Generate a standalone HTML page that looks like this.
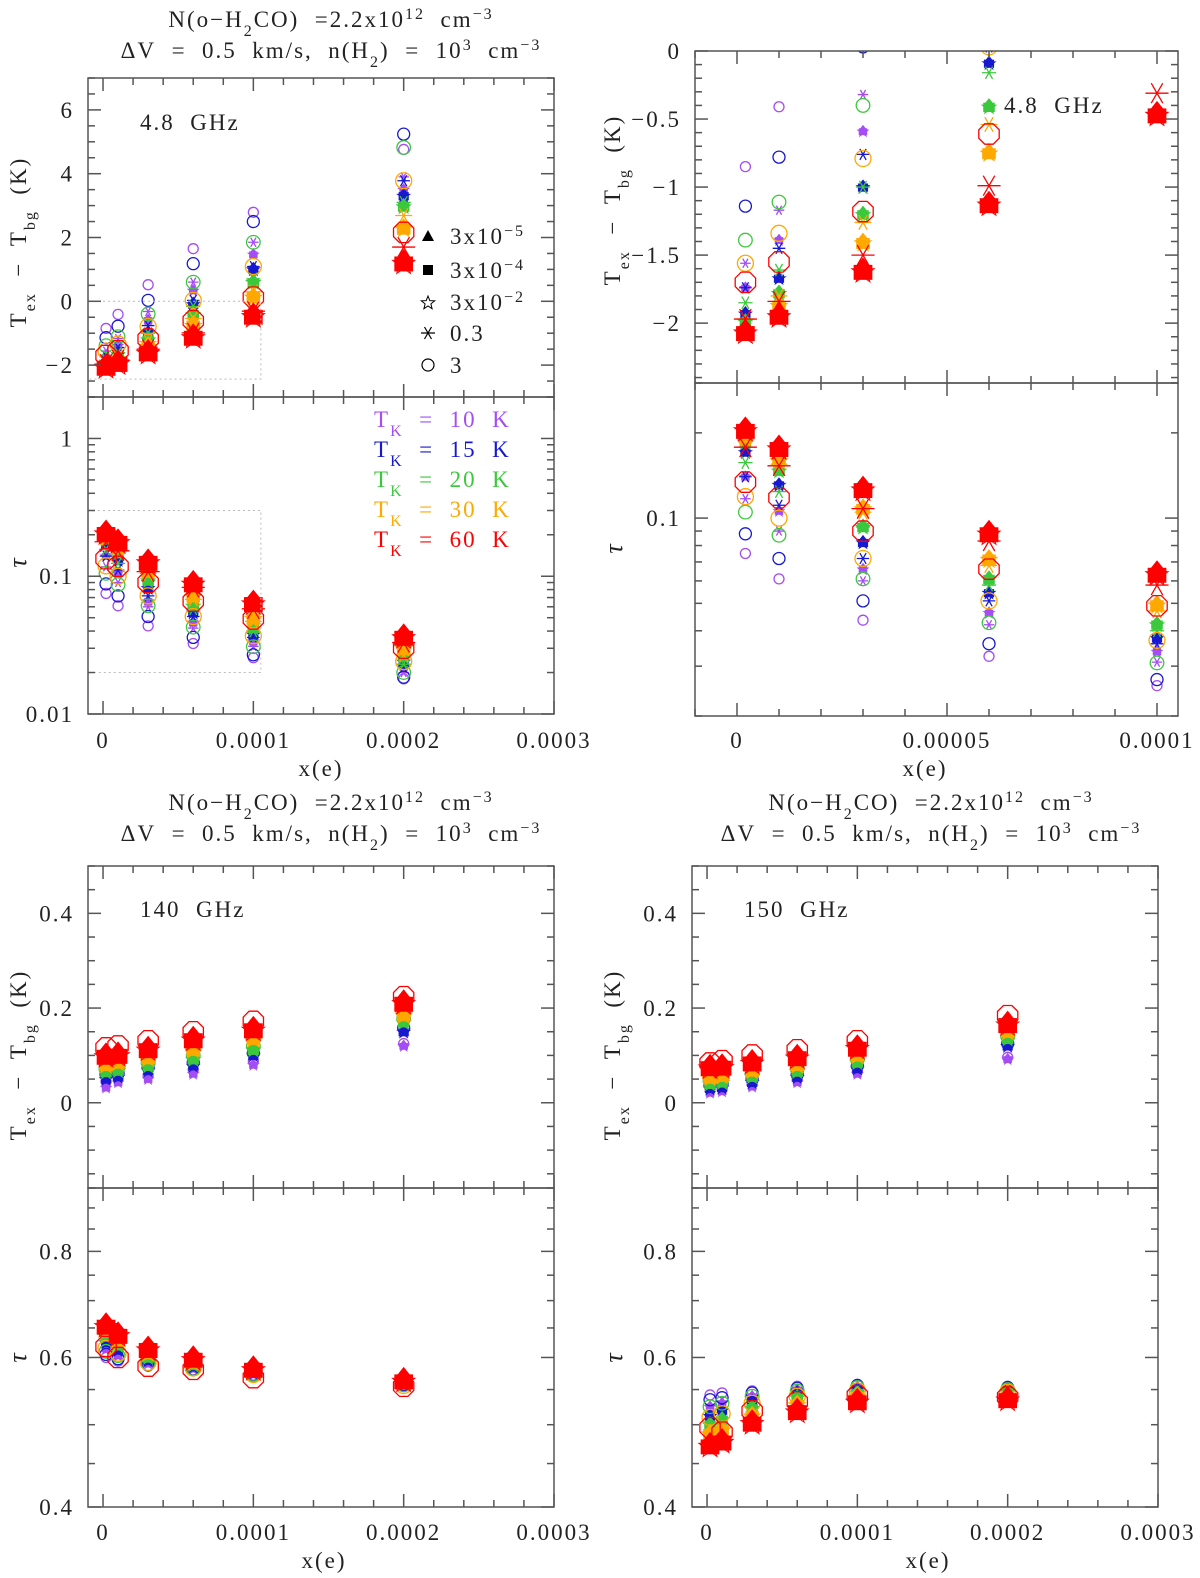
<!DOCTYPE html>
<html><head><meta charset="utf-8"><style>
html,body{margin:0;padding:0;background:#fff;}
svg{display:block;font-family:"Liberation Serif",serif;}
</style></head><body>
<svg id="fig" width="1200" height="1578" viewBox="0 0 1200 1578" xmlns="http://www.w3.org/2000/svg"></svg>
<script>
// ---------------- data ----------------
const xE = [2e-6, 1e-5, 3e-5, 6e-5, 1e-4, 2e-4];
const tempLabels = ['10', '15', '20', '30', '60'];
const tempColors = ['#a44df5', '#1818d0', '#3cc83c', '#ffa800', '#ff0000'];

// 4.8 GHz Tex - Tbg (K), rows = TK 10,15,20,30,60
const tex48Circle = [
  [-0.85, -0.41, 0.52, 1.65, 2.79, 4.76],
  [-1.14, -0.78, 0.03, 1.18, 2.50, 5.24],
  [-1.39, -1.11, -0.40, 0.60, 1.85, 4.82],
  [-1.56, -1.34, -0.79, 0.03, 1.09, 3.78],
  [-1.70, -1.55, -1.18, -0.61, 0.13, 2.16]];
const tex48Ast = [
  [-1.56, -1.17, -0.32, 0.60, 1.85, 3.90],
  [-1.74, -1.45, -0.76, 0.03, 1.09, 3.78],
  [-1.85, -1.61, -1.00, -0.16, 0.70, 3.10],
  [-1.97, -1.80, -1.26, -0.54, 0.30, 2.69],
  [-1.97, -1.84, -1.50, -0.99, -0.31, 1.70]];
const tex48Filled = [
  [-1.74, -1.39, -0.59, 0.34, 1.47, 3.50],
  [-1.93, -1.67, -1.00, -0.09, 1.00, 3.31],
  [-1.99, -1.78, -1.20, -0.41, 0.60, 2.97],
  [-2.07, -1.87, -1.41, -0.75, 0.13, 2.28],
  [-2.07, -1.95, -1.62, -1.13, -0.47, 1.20]];
// 4.8 GHz tau
const tau48Circle = [
  [0.075, 0.061, 0.0436, 0.0325, 0.0256, 0.018],
  [0.088, 0.072, 0.051, 0.036, 0.0269, 0.0185],
  [0.105, 0.087, 0.061, 0.0427, 0.0308, 0.020],
  [0.119, 0.100, 0.072, 0.051, 0.037, 0.024],
  [0.134, 0.118, 0.090, 0.066, 0.049, 0.030]];
const tau48Ast = [
  [0.117, 0.090, 0.060, 0.042, 0.031, 0.020],
  [0.140, 0.111, 0.072, 0.051, 0.036, 0.022],
  [0.157, 0.124, 0.093, 0.058, 0.040, 0.023],
  [0.190, 0.155, 0.105, 0.068, 0.047, 0.027],
  [0.178, 0.153, 0.108, 0.083, 0.058, 0.033]];
const tau48Filled = [
  [0.140, 0.106, 0.066, 0.0463, 0.0338, 0.022],
  [0.171, 0.131, 0.082, 0.0545, 0.0377, 0.024],
  [0.185, 0.147, 0.093, 0.061, 0.0421, 0.026],
  [0.193, 0.160, 0.108, 0.0715, 0.0493, 0.030],
  [0.204, 0.176, 0.126, 0.088, 0.0633, 0.036]];
// 140 GHz
const tex140Filled = [
  [0.032, 0.043, 0.050, 0.061, 0.080, 0.120],
  [0.050, 0.055, 0.068, 0.078, 0.100, 0.150],
  [0.065, 0.068, 0.078, 0.092, 0.112, 0.170],
  [0.080, 0.085, 0.094, 0.112, 0.135, 0.185],
  [0.098, 0.100, 0.112, 0.133, 0.154, 0.210]];
const tex140Circle = [
  [0.045, 0.052, 0.058, 0.070, 0.088, 0.125],
  [0.060, 0.062, 0.075, 0.085, 0.105, 0.158],
  [0.072, 0.075, 0.085, 0.100, 0.120, 0.178],
  [0.088, 0.090, 0.100, 0.118, 0.140, 0.195],
  [0.116, 0.120, 0.131, 0.150, 0.172, 0.224]];
const tau140Filled = [
  [0.615, 0.603, 0.590, 0.582, 0.573, 0.558],
  [0.625, 0.612, 0.595, 0.585, 0.575, 0.559],
  [0.635, 0.620, 0.600, 0.588, 0.577, 0.560],
  [0.645, 0.628, 0.607, 0.592, 0.579, 0.561],
  [0.653, 0.637, 0.613, 0.597, 0.581, 0.563]];
const tau140Circle = [
  [0.600, 0.594, 0.586, 0.580, 0.572, 0.557],
  [0.605, 0.598, 0.588, 0.581, 0.572, 0.557],
  [0.610, 0.603, 0.590, 0.582, 0.573, 0.557],
  [0.615, 0.607, 0.592, 0.583, 0.573, 0.556],
  [0.618, 0.600, 0.586, 0.581, 0.568, 0.555]];
// 150 GHz
const tex150Filled = [
  [0.021, 0.024, 0.034, 0.043, 0.061, 0.092],
  [0.030, 0.032, 0.043, 0.054, 0.072, 0.120],
  [0.040, 0.043, 0.055, 0.066, 0.085, 0.135],
  [0.053, 0.057, 0.068, 0.080, 0.100, 0.150],
  [0.074, 0.075, 0.084, 0.095, 0.115, 0.165]];
const tex150Circle = [
  [0.030, 0.032, 0.040, 0.050, 0.066, 0.096],
  [0.038, 0.040, 0.050, 0.060, 0.078, 0.125],
  [0.048, 0.050, 0.062, 0.072, 0.092, 0.140],
  [0.060, 0.063, 0.075, 0.088, 0.108, 0.158],
  [0.084, 0.089, 0.101, 0.112, 0.131, 0.184]];
const tau150Filled = [
  [0.525, 0.530, 0.540, 0.550, 0.554, 0.552],
  [0.512, 0.520, 0.533, 0.545, 0.550, 0.550],
  [0.500, 0.507, 0.523, 0.538, 0.545, 0.546],
  [0.488, 0.493, 0.512, 0.528, 0.540, 0.541],
  [0.472, 0.477, 0.502, 0.518, 0.532, 0.535]];
const tau150Circle = [
  [0.542, 0.545, 0.548, 0.555, 0.558, 0.555],
  [0.535, 0.538, 0.545, 0.552, 0.556, 0.553],
  [0.525, 0.530, 0.540, 0.548, 0.553, 0.550],
  [0.510, 0.515, 0.530, 0.540, 0.548, 0.546],
  [0.496, 0.490, 0.519, 0.532, 0.541, 0.539]];

// ---------------- helpers ----------------
const NS = 'http://www.w3.org/2000/svg';
const svg = document.getElementById('fig');
function mk(parent, tag, attrs, name, inter) {
  const el = document.createElementNS(NS, tag);
  for (const k in attrs) el.setAttribute(k, attrs[k]);
  
  
  parent.appendChild(el);
  return el;
}
function txt(parent, x, y, html, size, anchor, name, color, extra) {
  const t = mk(parent, 'text', {x: x, y: y, 'font-size': size, 'text-anchor': anchor || 'start', fill: color || '#222', 'letter-spacing': '2'}, name);
  if (extra) for (const k in extra) t.setAttribute(k, extra[k]);
  t.innerHTML = html.replace(/  /g, '\u00a0\u00a0');
  return t;
}
const SUP = (s) => `<tspan baseline-shift="super" font-size="16">${s}</tspan>`;
const SUB = (s) => `<tspan baseline-shift="sub" font-size="16">${s}</tspan>`;

function linS(d0, d1, p0, p1) { return v => p0 + (v - d0) / (d1 - d0) * (p1 - p0); }
function logS(d0, d1, p0, p1) { const a = Math.log10(d0), b = Math.log10(d1); return v => p0 + (Math.log10(v) - a) / (b - a) * (p1 - p0); }

let clipId = 0;
function subPanel(box, xs, ys, name) {
  const g = mk(svg, 'g', {}, name);
  const id = 'c' + (clipId++);
  const cp = mk(g, 'clipPath', {id: id}, name + '-clip');
  mk(cp, 'rect', {x: box.x0, y: box.y0, width: box.x1 - box.x0, height: box.y1 - box.y0}, name + '-clip-rect');
  const plot = mk(g, 'g', {'clip-path': `url(#${id})`}, name + '-plot-area');
  return {g: g, plot: plot, box: box, xs: xs, ys: ys};
}
function frameAndTicks(p, xt, yt, name) {
  const b = p.box, g = p.g;
  mk(g, 'rect', {x: b.x0, y: b.y0, width: b.x1 - b.x0, height: b.y1 - b.y0, fill: 'none', stroke: '#555', 'stroke-width': 1.5}, name + '-frame');
  xt.forEach(t => {
    const X = p.xs(t.v), L = t.major ? 13 : 7;
    mk(g, 'line', {x1: X, x2: X, y1: b.y1, y2: b.y1 - L, stroke: '#555', 'stroke-width': 1.5}, name + '-x-tick');
    mk(g, 'line', {x1: X, x2: X, y1: b.y0, y2: b.y0 + L, stroke: '#555', 'stroke-width': 1.5}, name + '-x-tick');
  });
  yt.forEach(t => {
    const Y = p.ys(t.v), L = t.major ? 13 : 7;
    mk(g, 'line', {x1: b.x0, x2: b.x0 + L, y1: Y, y2: Y, stroke: '#555', 'stroke-width': 1.5}, name + '-y-tick');
    mk(g, 'line', {x1: b.x1, x2: b.x1 - L, y1: Y, y2: Y, stroke: '#555', 'stroke-width': 1.5}, name + '-y-tick');
    if (t.label !== undefined) txt(g, b.x0 - 14, Y + 8, t.label, 23, 'end', name + '-y-tick-label');
  });
}
function linTicks(lo, hi, minor, major, fmt) {
  const out = [];
  const n0 = Math.ceil(lo / minor - 1e-6), n1 = Math.floor(hi / minor + 1e-6);
  for (let n = n0; n <= n1; n++) {
    const v = n * minor;
    const isMaj = Math.abs(v / major - Math.round(v / major)) < 1e-6;
    out.push({v: v, major: isMaj, label: isMaj && fmt ? fmt(v) : undefined});
  }
  return out;
}
function logTicks(lo, hi, labels) {
  const out = [];
  for (let d = Math.floor(Math.log10(lo)); d <= Math.ceil(Math.log10(hi)); d++) {
    for (let k = 1; k <= 9; k++) {
      const v = k * Math.pow(10, d);
      if (v < lo * 0.999 || v > hi * 1.001) continue;
      const lab = labels[v.toPrecision(3)];
      out.push({v: v, major: k === 1, label: lab});
    }
  }
  return out;
}
function fmtNum(v) { const s = (Math.round(v * 1000) / 1000).toString(); return s.replace('-', '−'); }

// ---- markers ----
const sizeR = [5, 6, 6.8, 8, 11];
function mCircle(g, x, y, t) {
  const r = sizeR[t], c = tempColors[t];
  if (t === 4) {
    let pts = [];
    for (let k = 0; k < 8; k++) { const a = Math.PI / 8 + k * Math.PI / 4; pts.push((x + r * Math.cos(a)).toFixed(1) + ',' + (y + r * Math.sin(a)).toFixed(1)); }
    mk(g, 'polygon', {points: pts.join(' '), fill: 'none', stroke: c, 'stroke-width': 1.3}, 'circle-marker-60K');
  } else {
    mk(g, 'circle', {cx: x, cy: y, r: r, fill: 'none', stroke: c, 'stroke-width': 1.3}, 'circle-marker-' + tempLabels[t] + 'K');
  }
}
function mAst(g, x, y, t) {
  const r = sizeR[t] * 1.05, c = tempColors[t];
  let d = '';
  [0, 60, 120].forEach(a => { const ra = a * Math.PI / 180; d += `M${x - r * Math.cos(ra)},${y - r * Math.sin(ra)}L${x + r * Math.cos(ra)},${y + r * Math.sin(ra)}`; });
  mk(g, 'path', {d: d, stroke: c, 'stroke-width': 1.3, fill: 'none'}, 'asterisk-marker-' + tempLabels[t] + 'K');
}
function mFilled(g, x, y, t) {
  const r = sizeR[t] * 0.85, c = tempColors[t];
  mk(g, 'rect', {x: x - r, y: y - r * 0.7, width: 2 * r, height: 1.6 * r, fill: c}, 'square-marker-' + tempLabels[t] + 'K');
  mk(g, 'polygon', {points: `${x - r * 0.8},${y - r * 0.5} ${x + r * 0.8},${y - r * 0.5} ${x},${y - r * 1.5}`, fill: c}, 'triangle-marker-' + tempLabels[t] + 'K');
  let pts = [];
  for (let k = 0; k < 10; k++) { const a = -Math.PI / 2 + k * Math.PI / 5, rr = (k % 2 ? 0.5 : 1.25) * r; pts.push((x + rr * Math.cos(a)).toFixed(1) + ',' + (y + 0.1 * r + rr * Math.sin(a)).toFixed(1)); }
  mk(g, 'polygon', {points: pts.join(' '), fill: 'none', stroke: c, 'stroke-width': 1}, 'star-marker-' + tempLabels[t] + 'K');
}
function drawSeries(p, arrs) {
  for (let t = 0; t < 5; t++) {
    xE.forEach((xv, i) => {
      const X = p.xs(xv);
      if (X < p.box.x0 - 20 || X > p.box.x1 + 20) return;
      if (arrs.circle) mCircle(p.plot, X, p.ys(arrs.circle[t][i]), t);
      if (arrs.ast) mAst(p.plot, X, p.ys(arrs.ast[t][i]), t);
      if (arrs.filled) mFilled(p.plot, X, p.ys(arrs.filled[t][i]), t);
    });
  }
}
function xLabels(p, ticks, y, name) {
  ticks.forEach(t => txt(svg, p.xs(t.v), y, t.label, 23, 'middle', name + '-x-tick-label'));
}
function ylabelTex(x, y, name) {
  txt(svg, x, y, `T${SUB('ex')}  −  T${SUB('bg')}  (K)`, 23, 'middle', name, '#222', {transform: `rotate(-90 ${x} ${y})`});
}
function ylabelTau(x, y, name) {
  txt(svg, x, y, 'τ', 26, 'middle', name, '#222', {transform: `rotate(-90 ${x} ${y})`, 'font-style': 'italic'});
}
function titles(cx, y1, name) {
  txt(svg, cx, y1, `N(o−H${SUB('2')}CO)  =2.2x10${SUP('12')}  cm${SUP('−3')}`, 23, 'middle', name + '-line1');
  txt(svg, cx, y1 + 31, `ΔV  =  0.5  km/s,  n(H${SUB('2')})  =  10${SUP('3')}  cm${SUP('−3')}`, 23, 'middle', name + '-line2');
}

// ---------------- panels ----------------
const bigX = linS(-1e-5, 3e-4, 88, 554);
const bigXR = linS(-1e-5, 3e-4, 692, 1158);
const zoomX = linS(-1e-5, 1.05e-4, 695, 1178);
const bigXt = linTicks(-1e-5, 3e-4, 2e-5, 1e-4, v => v === 0 ? '0' : v.toFixed(4));
const zoomXt = linTicks(-1e-5, 1.05e-4, 1e-5, 5e-5, v => v === 0 ? '0' : (Math.abs(v - 5e-5) < 1e-9 ? '0.00005' : '0.0001'));

// Panel 1 (top-left, 4.8 GHz)
const p1a = subPanel({x0: 88, x1: 554, y0: 78, y1: 397}, bigX, linS(-3, 7, 397, 78), 'tex-4p8-panel');
const p1b = subPanel({x0: 88, x1: 554, y0: 397, y1: 714}, bigX, logS(0.01, 2, 714, 397), 'tau-4p8-panel');
mk(p1a.g, 'rect', {x: bigX(-1e-5), y: p1a.ys(0), width: bigX(1.05e-4) - bigX(-1e-5), height: p1a.ys(-2.44) - p1a.ys(0), fill: 'none', stroke: '#bbb', 'stroke-dasharray': '2,3'}, 'zoom-region-box');
mk(p1b.g, 'rect', {x: bigX(-1e-5), y: p1b.ys(0.3), width: bigX(1.05e-4) - bigX(-1e-5), height: p1b.ys(0.02) - p1b.ys(0.3), fill: 'none', stroke: '#bbb', 'stroke-dasharray': '2,3'}, 'zoom-region-box');
drawSeries(p1a, {circle: tex48Circle, ast: tex48Ast, filled: tex48Filled});
drawSeries(p1b, {circle: tau48Circle, ast: tau48Ast, filled: tau48Filled});
frameAndTicks(p1a, bigXt, linTicks(-3, 7, 0.5, 2, fmtNum), 'tex-4p8');
frameAndTicks(p1b, bigXt, logTicks(0.01, 2, {'1.00': '1', '0.100': '0.1', '0.0100': '0.01'}), 'tau-4p8');
xLabels(p1b, bigXt.filter(t => t.label), 748, 'tau-4p8');
txt(svg, 321, 776, 'x(e)', 23, 'middle', 'x-axis-title');
titles(331, 27, 'title-top-left');
ylabelTex(26, 242, 'y-axis-title-tex');
ylabelTau(26, 562, 'y-axis-title-tau');
txt(svg, 140, 130, '4.8  GHz', 23, 'start', 'panel-label-4p8');

// Legend
const lg = mk(svg, 'g', {}, 'marker-legend');
const legY = [236, 270, 302, 333, 365];
const legTxt = [`3x10${SUP('−5')}`, `3x10${SUP('−4')}`, `3x10${SUP('−2')}`, '0.3', '3'];
mk(lg, 'polygon', {points: `422,${legY[0] + 5} 434,${legY[0] + 5} 428,${legY[0] - 6}`, fill: '#000'}, 'legend-triangle');
mk(lg, 'rect', {x: 423, y: legY[1] - 5, width: 10, height: 10, fill: '#000'}, 'legend-square');
(function () { let pts = []; for (let k = 0; k < 10; k++) { const a = -Math.PI / 2 + k * Math.PI / 5, rr = k % 2 ? 3 : 7; pts.push((428 + rr * Math.cos(a)).toFixed(1) + ',' + (legY[2] + 1 + rr * Math.sin(a)).toFixed(1)); } mk(lg, 'polygon', {points: pts.join(' '), fill: 'none', stroke: '#000', 'stroke-width': 1}, 'legend-star'); })();
mk(lg, 'path', {d: `M421,${legY[3]}L435,${legY[3]}M424.5,${legY[3] - 6}L431.5,${legY[3] + 6}M431.5,${legY[3] - 6}L424.5,${legY[3] + 6}`, stroke: '#000', 'stroke-width': 1.2}, 'legend-asterisk');
mk(lg, 'circle', {cx: 428, cy: legY[4], r: 6, fill: 'none', stroke: '#000', 'stroke-width': 1.2}, 'legend-circle');
legTxt.forEach((s, i) => txt(lg, 450, legY[i] + 8, s, 23, 'start', 'legend-label'));
const tkY = [427, 457, 487, 517, 547];
tempLabels.forEach((tl, i) => txt(svg, 374, tkY[i], `T${SUB('K')}  =  ${tl}  K`, 23, 'start', 'temperature-legend-entry', tempColors[i]));

// Panel 2 (top-right zoom, 4.8 GHz)
const p2a = subPanel({x0: 695, x1: 1178, y0: 51, y1: 383}, zoomX, linS(-2.44, 0, 383, 51), 'tex-4p8-zoom-panel');
const p2b = subPanel({x0: 695, x1: 1178, y0: 383, y1: 716}, zoomX, logS(0.02, 0.3, 716, 383), 'tau-4p8-zoom-panel');
drawSeries(p2a, {circle: tex48Circle, ast: tex48Ast, filled: tex48Filled});
drawSeries(p2b, {circle: tau48Circle, ast: tau48Ast, filled: tau48Filled});
frameAndTicks(p2a, zoomXt, linTicks(-2.44, 0, 0.1, 0.5, fmtNum), 'tex-4p8-zoom');
frameAndTicks(p2b, zoomXt, logTicks(0.02, 0.3, {'0.100': '0.1'}), 'tau-4p8-zoom');
xLabels(p2b, zoomXt.filter(t => t.label), 748, 'tau-4p8-zoom');
txt(svg, 925, 776, 'x(e)', 23, 'middle', 'x-axis-title');
ylabelTex(620, 200, 'y-axis-title-tex');
ylabelTau(622, 548, 'y-axis-title-tau');
txt(svg, 1004, 113, '4.8  GHz', 23, 'start', 'panel-label-4p8-zoom');

// Panels 3 & 4 (140 / 150 GHz)
function lowerPanels(xs, x0, x1, texF, texC, tauF, tauC, label, key) {
  const a = subPanel({x0: x0, x1: x1, y0: 866, y1: 1188}, xs, linS(-0.18, 0.5, 1188, 866), 'tex-' + key + '-panel');
  const b = subPanel({x0: x0, x1: x1, y0: 1188, y1: 1507}, xs, logS(0.4, 0.95, 1507, 1188), 'tau-' + key + '-panel');
  drawSeries(a, {circle: texC, filled: texF});
  drawSeries(b, {circle: tauC, filled: tauF});
  frameAndTicks(a, linTicks(-1e-5, 3e-4, 2e-5, 1e-4), linTicks(-0.18, 0.5, 0.05, 0.2, fmtNum), 'tex-' + key);
  const tt = [];
  for (let v = 0.4; v <= 0.951; v += 0.05) { const m = Math.abs(v * 5 - Math.round(v * 5)) < 1e-6; tt.push({v: v, major: m, label: m ? v.toFixed(1) : undefined}); }
  frameAndTicks(b, linTicks(-1e-5, 3e-4, 2e-5, 1e-4), tt, 'tau-' + key);
  const lt = linTicks(-1e-5, 3e-4, 2e-5, 1e-4, v => v === 0 ? '0' : v.toFixed(4)).filter(t => t.label);
  xLabels(b, lt, 1540, 'tau-' + key);
  txt(svg, (x0 + x1) / 2 + 3, 1568, 'x(e)', 23, 'middle', 'x-axis-title');
  txt(svg, x0 + 52, 917, label, 23, 'start', 'panel-label-' + key);
}
lowerPanels(bigX, 88, 554, tex140Filled, tex140Circle, tau140Filled, tau140Circle, '140  GHz', '140ghz');
lowerPanels(bigXR, 692, 1158, tex150Filled, tex150Circle, tau150Filled, tau150Circle, '150  GHz', '150ghz');
titles(331, 810, 'title-bottom-left');
titles(931, 810, 'title-bottom-right');
ylabelTex(26, 1055, 'y-axis-title-tex');
ylabelTau(26, 1357, 'y-axis-title-tau');
ylabelTex(620, 1055, 'y-axis-title-tex');
ylabelTau(622, 1357, 'y-axis-title-tau');
</script>
</body></html>
